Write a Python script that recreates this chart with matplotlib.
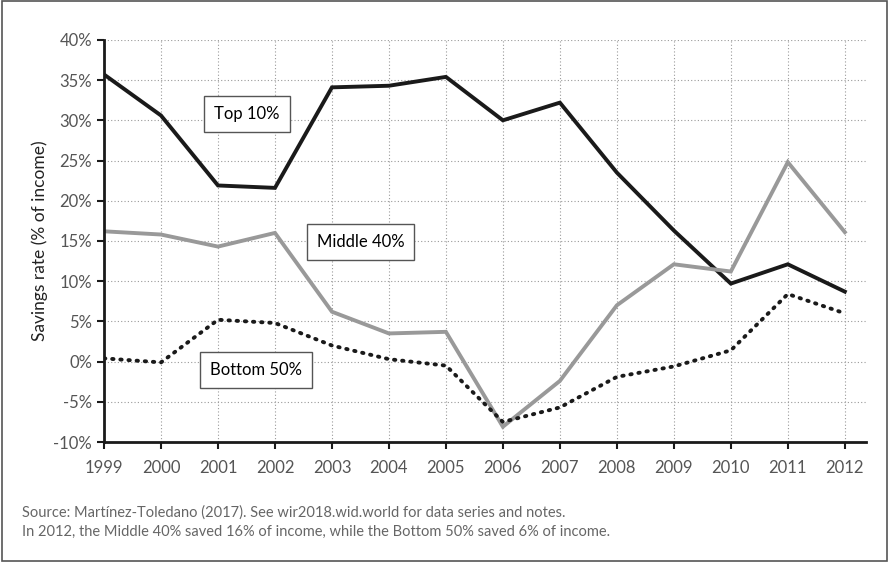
#!/usr/bin/env python3
"""Savings rates by income group, Spain 1999-2012."""

import matplotlib.pyplot as plt
from matplotlib.patches import Rectangle

plt.rcParams['font.family'] = ['Lato', 'DejaVu Sans']

years = list(range(1999, 2013))
top10 = [35.7, 30.6, 21.9, 21.6, 34.1, 34.3, 35.4, 30.0, 32.2, 23.5, 16.3, 9.7, 12.1, 8.7]
middle40 = [16.2, 15.8, 14.3, 16.0, 6.2, 3.5, 3.7, -8.1, -2.4, 7.0, 12.1, 11.2, 24.8, 16.1]
bottom50 = [0.4, -0.1, 5.2, 4.8, 2.0, 0.3, -0.5, -7.5, -5.7, -1.9, -0.6, 1.4, 8.4, 6.0]
yticks = [-10, -5, 0, 5, 10, 15, 20, 25, 30, 35, 40]

fig = plt.figure(figsize=(8.89, 5.62), dpi=100)
ax = fig.add_axes([0.117, 0.2135, 0.857, 0.7155])

ax.plot(years, top10, color='#1a1a1a', lw=2.8, solid_joinstyle='miter')
ax.plot(years, middle40, color='#999999', lw=2.8, solid_joinstyle='miter')
ax.plot(years, bottom50, color='#1a1a1a', lw=2.8, linestyle=(0, (0.35, 1.75)),
        dash_capstyle='round')

ax.set_xlim(1999, 2012.37)
ax.set_ylim(-10, 40)
ax.set_xticks(years)
ax.set_yticks(yticks)
ax.set_yticklabels([f'{v}%' for v in yticks])
ax.grid(True, color='#9a9a9a', linestyle=(0, (1, 2)), linewidth=0.8)
ax.set_axisbelow(True)

for side in ['top', 'right']:
    ax.spines[side].set_visible(False)
for side in ['left', 'bottom']:
    ax.spines[side].set_linewidth(2)
    ax.spines[side].set_color('#1a1a1a')
ax.tick_params(axis='both', direction='out', length=5, width=1.5, color='#1a1a1a',
               labelcolor='#555555', labelsize=12)
ax.tick_params(axis='x', pad=8)
ax.set_ylabel('Savings rate (% of income)', fontsize=12.5, color='#222222', labelpad=4)

box = dict(boxstyle='square,pad=0.6', facecolor='white', edgecolor='#555555', lw=1)
ax.text(2001.51, 30.8, 'Top 10%', fontsize=12, ha='center', va='center', bbox=box)
ax.text(2003.5, 14.9, 'Middle 40%', fontsize=12, ha='center', va='center', bbox=box)
ax.text(2001.67, -1.0, 'Bottom 50%', fontsize=12, ha='center', va='center', bbox=box)

fig.text(0.025, 0.088, 'Source: Martínez-Toledano (2017). See wir2018.wid.world for data series and notes.',
         fontsize=10.5, color='#666666', va='center')
fig.text(0.025, 0.053, 'In 2012, the Middle 40% saved 16% of income, while the Bottom 50% saved 6% of income.',
         fontsize=10.5, color='#666666', va='center')

fig.patches.append(Rectangle((0.002, 0.002), 0.996, 0.996, transform=fig.transFigure,
                             fill=False, edgecolor='#555555', lw=1.2))

plt.savefig('out.png', dpi=100)
